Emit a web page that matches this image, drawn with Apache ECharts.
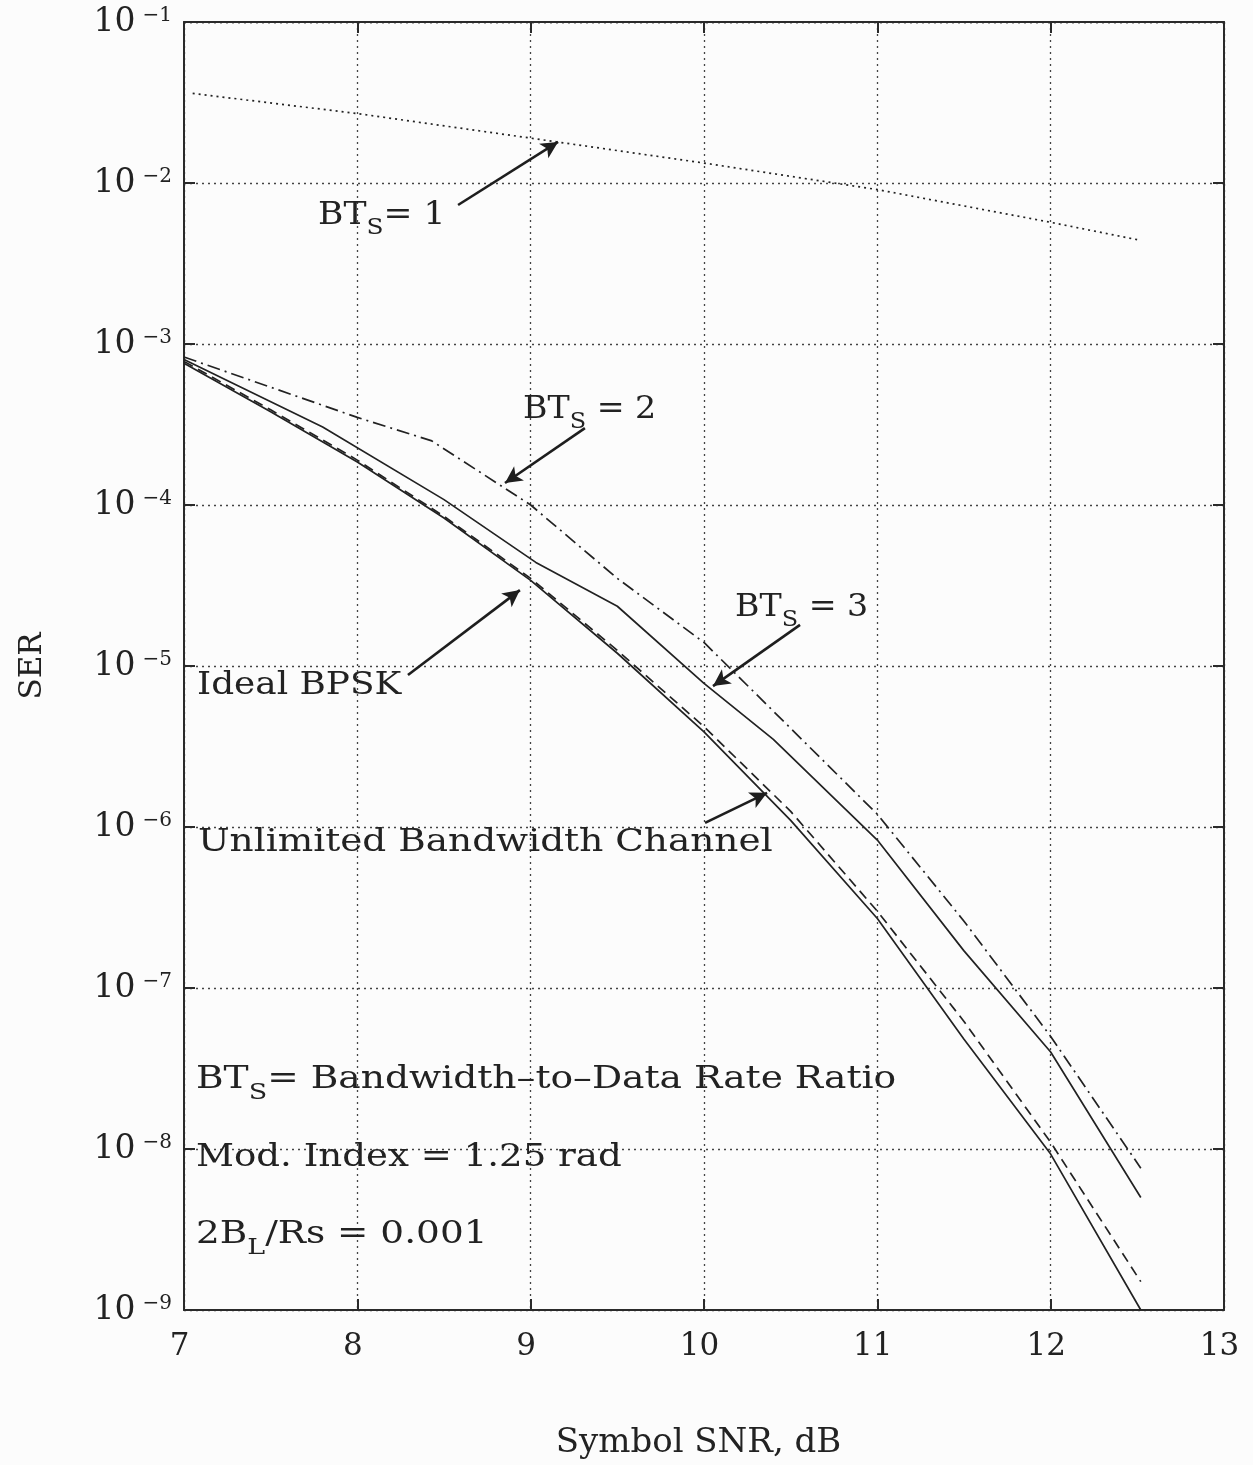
<!DOCTYPE html>
<html>
<head>
<meta charset="utf-8">
<script src="https://cdn.jsdelivr.net/npm/echarts@6/dist/echarts.min.js"></script>
<style>
  html, body { margin: 0; padding: 0; background: #fcfcfc; }
  #chart { width: 1253px; height: 1465px; }
</style>
</head>
<body>
<div id="chart"></div>
<script>
// Symbol error rate vs. symbol SNR for several bandwidth-to-data-rate ratios
const snrBT1 = [7.05, 8, 9, 10, 11, 12, 12.52];
const serBT1 = [0.036, 0.027, 0.019, 0.0133, 0.0091, 0.0057, 0.0044];

const snrBT2 = [7, 8, 8.43, 9, 9.5, 10, 10.5, 11, 11.5, 12, 12.52];
const serBT2 = [8.3e-4, 3.5e-4, 2.5e-4, 1.0e-4, 3.5e-5, 1.4e-5, 4.1e-6, 1.2e-6, 2.6e-7, 5.0e-8, 7.6e-9];

const snrBT3 = [7, 7.8, 8.5, 9.03, 9.5, 10, 10.4, 11, 11.5, 12, 12.52];
const serBT3 = [8.0e-4, 3.05e-4, 1.08e-4, 4.4e-5, 2.35e-5, 7.8e-6, 3.5e-6, 8.3e-7, 1.7e-7, 4.0e-8, 5.0e-9];

const snrIdeal = [7, 7.5, 8, 8.5, 9, 9.5, 10, 10.5, 11, 11.5, 12, 12.52];
const serIdeal = [7.6e-4, 3.8e-4, 1.85e-4, 8.3e-5, 3.4e-5, 1.2e-5, 3.9e-6, 1.1e-6, 2.7e-7, 4.8e-8, 9.3e-9, 1.0e-9];

const snrUnlim = [7, 7.5, 8, 8.5, 9, 9.5, 10, 10.5, 11, 11.5, 12, 12.52];
const serUnlim = [7.8e-4, 3.9e-4, 1.9e-4, 8.5e-5, 3.5e-5, 1.25e-5, 4.2e-6, 1.25e-6, 3.0e-7, 6.2e-8, 1.1e-8, 1.5e-9];

const xTicks = [7, 8, 9, 10, 11, 12, 13];

const pairs = (xs, ys) => xs.map((x, i) => [x, ys[i]]);

const FONT = 'DejaVu Serif';
const INK = '#222222';

// text blocks and pointer arrows, in data coordinates
const notes = [
  { at: [7.773, 6.3e-3], text: '{b|BT}{s|S}{b|= 1}', sx: 1.08 },
  { at: [8.956, 3.9e-4], text: '{b|BT}{s|S}{b| = 2}', sx: 1.04 },
  { at: [10.179, 2.3e-5], text: '{b|BT}{s|S}{b| = 3}', sx: 1.04 },
  { at: [7.075, 7.5e-6], text: '{b|Ideal BPSK}', sx: 1.12 },
  { at: [7.081, 8.0e-7], text: '{b|Unlimited Bandwidth Channel}', sx: 1.17 },
  { at: [7.069, 2.68e-8], text: '{b|BT}{s|S}{b|= Bandwidth\u2013to\u2013Data Rate Ratio}', sx: 1.175 },
  { at: [7.069, 8.8e-9], text: '{b|Mod. Index = 1.25 rad}', sx: 1.16 },
  { at: [7.069, 2.92e-9], text: '{b|2B}{s|L}{b|/Rs = 0.001}', sx: 1.17 }
];
const arrows = [
  [[8.581, 7.3e-3], [9.158, 0.018]],
  [[9.313, 3.0e-4], [8.852, 1.37e-4]],
  [[10.554, 1.8e-5], [10.052, 7.5e-6]],
  [[8.292, 8.8e-6], [8.938, 2.96e-5]],
  [[10.006, 1.06e-6], [10.364, 1.63e-6]]
];

const richText = {
  b: { fontFamily: FONT, fontSize: 32, fill: INK, verticalAlign: 'middle' },
  s: { fontFamily: FONT, fontSize: 23, lineHeight: 22, fill: INK, verticalAlign: 'top', padding: [17, 0, 0, 0] }
};

const axisFrame = { lineStyle: { color: '#2a2a2a', width: 2 } };
const gridDots = { show: true, lineStyle: { color: '#444444', width: 1.3, type: [2, 4] } };
const inwardTick = { inside: true, length: 11, lineStyle: { color: '#2a2a2a', width: 2 } };

const curve = (name, xs, ys, type) => ({
  name,
  type: 'line',
  data: pairs(xs, ys),
  showSymbol: false,
  symbol: 'none',
  silent: true,
  lineStyle: { color: INK, width: 1.7, type }
});

const chart = echarts.init(document.getElementById('chart'), null, { renderer: 'canvas' });
chart.setOption({
  backgroundColor: '#fcfcfc',
  animation: false,
  grid: { left: 184, top: 22, right: 29, bottom: 155, containLabel: false },
  xAxis: [
    {
      type: 'value', min: xTicks[0], max: xTicks[xTicks.length - 1], interval: 1,
      position: 'bottom',
      name: 'Symbol SNR, dB', nameLocation: 'middle', nameGap: 116,
      nameTextStyle: { fontFamily: FONT, fontSize: 34, color: INK, padding: [0, 11, 0, 0] },
      axisLine: axisFrame,
      axisTick: inwardTick,
      axisLabel: { fontFamily: FONT, fontSize: 31, color: INK, margin: 21, padding: [0, 9, 0, 0] },
      splitLine: gridDots
    },
    {
      type: 'value', min: xTicks[0], max: xTicks[xTicks.length - 1], interval: 1,
      position: 'top',
      axisLine: axisFrame,
      axisTick: inwardTick,
      axisLabel: { show: false },
      splitLine: { show: false }
    }
  ],
  yAxis: [
    {
      type: 'log', logBase: 10, min: 1e-9, max: 1e-1, splitNumber: 8,
      position: 'left',
      name: 'SER', nameLocation: 'middle', nameGap: 136, nameRotate: 90,
      nameTextStyle: { fontFamily: FONT, fontSize: 31, color: INK },
      axisLine: axisFrame,
      axisTick: inwardTick,
      axisLabel: {
        margin: 12,
        formatter: v => '{b|10}{p|\u2212' + Math.abs(Math.round(Math.log10(v))) + '}',
        rich: {
          b: { fontFamily: FONT, fontSize: 33, lineHeight: 34, color: INK, verticalAlign: 'middle' },
          p: { fontFamily: FONT, fontSize: 20, lineHeight: 20, color: INK, verticalAlign: 'top', padding: [1, 0, 0, 7] }
        }
      },
      splitLine: gridDots,
      minorTick: { show: false }
    },
    {
      type: 'log', logBase: 10, min: 1e-9, max: 1e-1, splitNumber: 8,
      position: 'right',
      axisLine: axisFrame,
      axisTick: inwardTick,
      axisLabel: { show: false },
      splitLine: { show: false }
    }
  ],
  series: [
    curve('BTs = 1', snrBT1, serBT1, [2, 4]),
    curve('BTs = 2', snrBT2, serBT2, [13, 5, 2, 5]),
    curve('BTs = 3', snrBT3, serBT3, 'solid'),
    curve('Ideal BPSK', snrIdeal, serIdeal, 'solid'),
    curve('Unlimited Bandwidth Channel', snrUnlim, serUnlim, [10, 6]),
    {
      name: 'pointers',
      type: 'scatter',
      silent: true,
      symbolSize: 1,
      itemStyle: { color: 'transparent' },
      data: notes.map(n => n.at),
      markLine: {
        silent: true,
        symbol: ['none', 'arrow'],
        symbolSize: [13, 17],
        label: { show: false },
        lineStyle: { color: '#1e1e1e', width: 2.6, type: 'solid', opacity: 1 },
        data: arrows.map(a => [{ coord: a[0] }, { coord: a[1] }])
      }
    }
  ]
});

// annotation text, anchored on the axes' scales and stretched to the plotter lettering width
chart.setOption({
  graphic: notes.map(n => {
    const p = chart.convertToPixel({ gridIndex: 0 }, n.at);
    return {
      type: 'text',
      x: p[0], y: p[1],
      scaleX: n.sx, scaleY: 1,
      silent: true,
      style: {
        text: n.text,
        x: 0, y: 0,
        align: 'left', verticalAlign: 'middle',
        fontFamily: FONT, fontSize: 32, fill: INK,
        rich: richText
      }
    };
  })
});
</script>
</body>
</html>
